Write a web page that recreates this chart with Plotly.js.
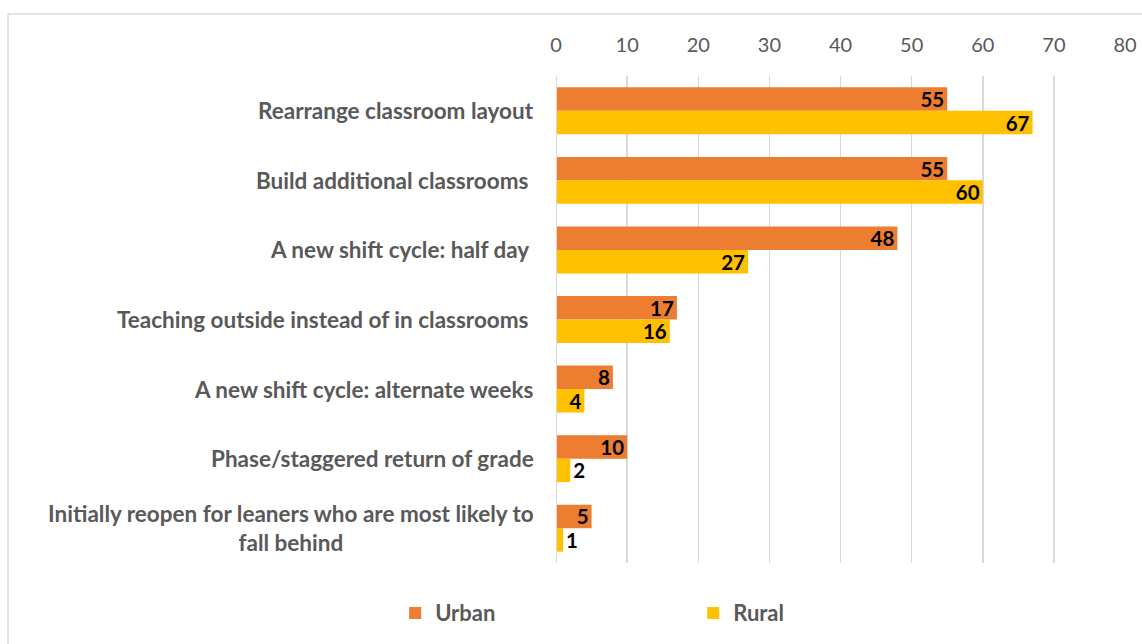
<!DOCTYPE html>
<html>
<head>
<meta charset="utf-8">
<script src="https://cdn.plot.ly/plotly-3.0.1.min.js"></script>
<style>html,body{margin:0;padding:0;background:#fff}#chart{width:1142px;height:644px}</style>
</head>
<body>
<div id="chart"></div>
<script>
const categories = [
  "Rearrange classroom layout",
  "Build additional classrooms\u00a0",
  "A new shift cycle: half day\u00a0",
  "Teaching outside instead of in classrooms\u00a0",
  "A new shift cycle: alternate weeks",
  "Phase/staggered return of grade",
  "Initially reopen for leaners who are most likely to<br>fall behind"
];
const urban = [55, 55, 48, 17, 8, 10, 5];
const rural = [67, 60, 27, 16, 4, 2, 1];
const xTicks = [0, 10, 20, 30, 40, 50, 60, 70, 80];

const FONT = "Lato, 'Open Sans', sans-serif";
const labelFont = {family: FONT, size: 20.5, color: "#000000", weight: "bold"};

function barTrace(name, values, color, legendId) {
  return {type: "bar", orientation: "h", name: name, y: categories, x: values,
    marker: {color: color}, text: values.map(String), textposition: "auto",
    textangle: 0, constraintext: "none", insidetextanchor: "end",
    textfont: labelFont, insidetextfont: labelFont, outsidetextfont: labelFont,
    cliponaxis: false, hoverinfo: "x+y", legend: legendId};
}
const traces = [
  barTrace("Urban", urban, "#ED7D31", "legend"),
  barTrace("Rural", rural, "#FFC000", "legend2")
];

const annotations = categories.map(c => ({
  xref: "paper", yref: "y", x: -0.036, y: c, xanchor: "right", yanchor: "middle",
  align: "center", text: c, showarrow: false,
  font: {family: FONT, size: 22.5, color: "#595959", weight: "bold"}
}));

const legendBase = {orientation: "h", xref: "container", yref: "container",
  xanchor: "left", y: 0.048, yanchor: "middle", bgcolor: "rgba(0,0,0,0)",
  font: {family: FONT, size: 22, color: "#595959", weight: "bold"}};

const layout = {
  width: 1142, height: 644,
  margin: {l: 556, r: 17, t: 76, b: 81, pad: 0, autoexpand: false},
  paper_bgcolor: "#ffffff", plot_bgcolor: "#ffffff",
  font: {family: FONT, color: "#595959", size: 20},
  barmode: "group", bargap: 0.325, bargroupgap: 0,
  showlegend: true,
  legend: Object.assign({}, legendBase, {x: 0.346}),
  legend2: Object.assign({}, legendBase, {x: 0.607}),
  xaxis: {side: "top", range: [0, 80], tickvals: xTicks, ticktext: xTicks.map(String),
          showgrid: true, gridcolor: "#D9D9D9", gridwidth: 1.5, zeroline: false,
          showline: false, ticks: "", ticklabelstandoff: 19, fixedrange: true,
          tickfont: {family: FONT, size: 20, color: "#595959"}},
  yaxis: {autorange: "reversed", showgrid: false, zeroline: false, showline: false,
          ticks: "", showticklabels: false, fixedrange: true},
  annotations: annotations,
  shapes: [
    {type: "line", xref: "x", yref: "paper", x0: 0, x1: 0, y0: 0, y1: 1,
     line: {color: "#D9D9D9", width: 2}},
    {type: "rect", xref: "paper", yref: "paper", x0: -0.963, x1: 1.2, y0: -0.3, y1: 1.1273,
     line: {color: "#D9D9D9", width: 1.5}, fillcolor: "rgba(0,0,0,0)", layer: "below"}
  ]
};

Plotly.newPlot("chart", traces, layout, {displayModeBar: false, staticPlot: true});
</script>
</body>
</html>
